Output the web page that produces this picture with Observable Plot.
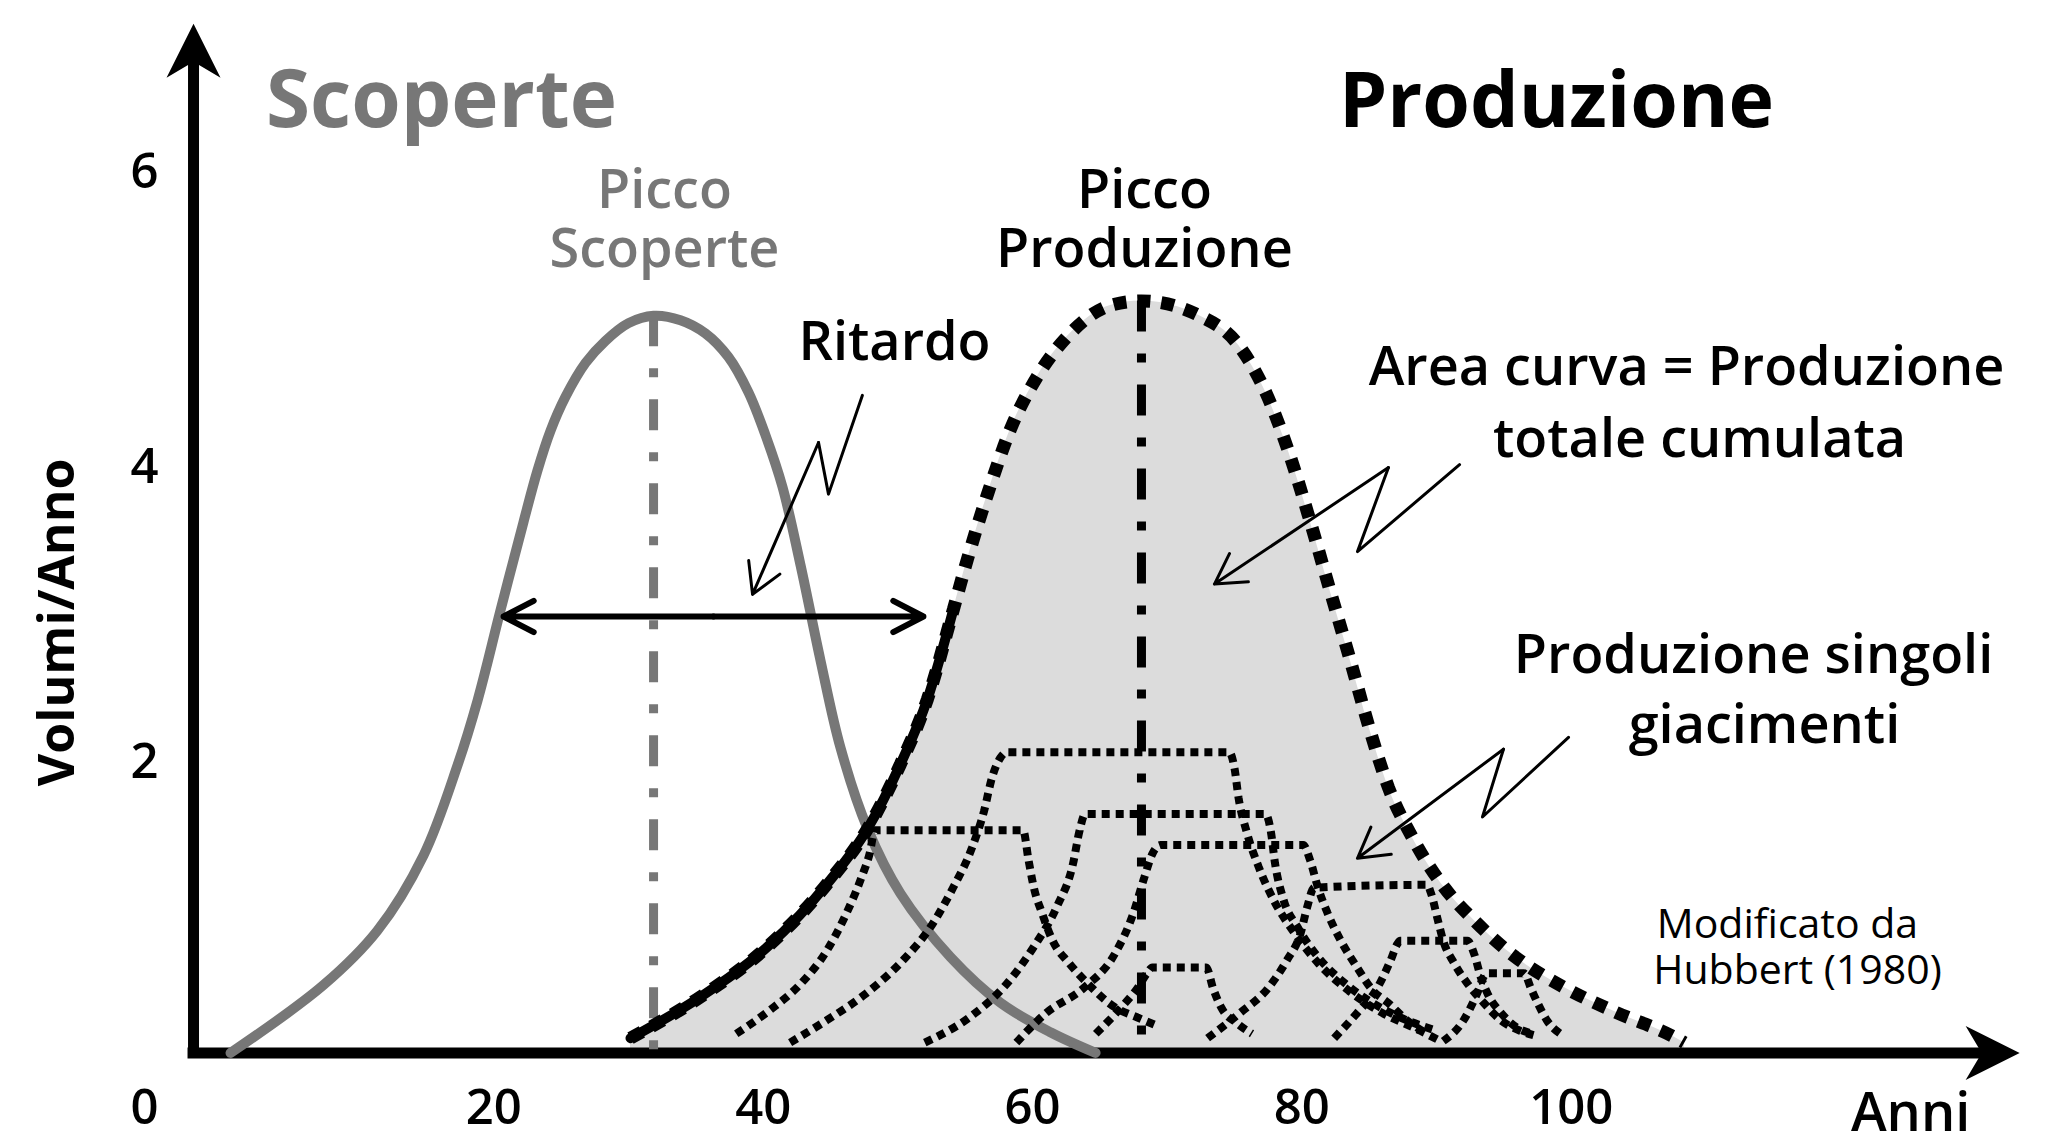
<!DOCTYPE html>
<html>
<head>
<meta charset="utf-8">
<script src="https://cdn.jsdelivr.net/npm/d3@7"></script>
<script src="https://cdn.jsdelivr.net/npm/@observablehq/plot@0.6"></script>
<style>
  html, body { margin: 0; padding: 0; background: #fff; }
  #chart svg { display: block; }
</style>
</head>
<body>
<div id="chart"></div>
<script>
// ---------- DATA (year, volume per year) ----------
const discoveries = [
  [0.45,0],[7.35,0.46],[11.36,0.83],[14.78,1.34],[17.30,1.95],[18.79,2.39],[20.49,3.00],
  [22.20,3.60],[23.24,3.95],[24.21,4.22],[25.32,4.45],[26.81,4.68],[28.29,4.83],[30.00,4.95],
  [31.86,5.00],[33.86,4.97],[35.72,4.88],[37.42,4.72],[38.91,4.48],[40.17,4.19],[41.43,3.84],
  [42.77,3.31],[44.26,2.66],[45.74,2.07],[47.75,1.52],[50.20,1.08],[53.91,0.65],[57.62,0.34],
  [61.33,0.14],[64.68,0]
];
const production = [
  [30.15,0.10],[35.35,0.38],[40.32,0.72],[44.78,1.15],[47.75,1.52],[50.20,1.96],[52.20,2.40],
  [54.13,3.01],[55.17,3.35],[56.66,3.79],[58.36,4.23],[60.37,4.59],[62.60,4.86],[65.79,5.07],
  [68.09,5.10],[72.40,5.00],[75.30,4.80],[77.37,4.47],[79.08,4.06],[80.57,3.62],[82.05,3.15],
  [83.54,2.68],[85.02,2.20],[86.43,1.80],[88.21,1.46],[90.59,1.12],[92.89,0.89],[95.86,0.65],
  [99.35,0.45],[103.21,0.28],[107.6,0.11],[108.4,0.07]
];
const observedUntil = 54.13; // solid (historical) part of production curve

// individual fields (giacimenti)
const fieldA = [[38.0,0.13],[40.5,0.29],[42.8,0.47],[44.7,0.69],[46.2,0.95],[47.3,1.19],[47.9,1.35],[48.3,1.51],[59.3,1.51],[59.7,1.31],[60.1,1.12],[60.7,0.95],[61.5,0.76],[62.7,0.61],[64.1,0.47],[66.1,0.31],[67.8,0.24],[69.1,0.19]];
const fieldB = [[42.0,0.07],[44.7,0.22],[47.6,0.40],[50.4,0.63],[52.4,0.85],[54.1,1.12],[55.5,1.39],[56.4,1.64],[57.0,1.87],[57.6,2.00],[58.1,2.04],[74.6,2.04],[75.0,1.93],[75.3,1.73],[75.9,1.50],[76.8,1.26],[78.0,1.02],[79.4,0.82],[81.2,0.61],[83.5,0.42],[85.8,0.28],[88.8,0.15],[90.3,0.08]];
const fieldC = [[52.0,0.07],[55.3,0.24],[58.1,0.47],[60.1,0.72],[61.8,0.99],[63.0,1.28],[63.5,1.51],[63.9,1.62],[77.3,1.62],[77.7,1.50],[78.0,1.29],[78.6,1.05],[79.7,0.85],[81.2,0.65],[83.5,0.45],[86.4,0.28],[90.0,0.15]];
const fieldD = [[58.8,0.07],[61.0,0.27],[63.8,0.44],[66.1,0.67],[67.5,0.95],[68.3,1.19],[68.9,1.35],[69.5,1.41],[80.1,1.41],[80.6,1.31],[81.2,1.12],[81.9,0.95],[82.9,0.76],[84.1,0.58],[85.3,0.42],[86.4,0.34],[87.8,0.22],[89.3,0.13]];
const fieldE = [[64.7,0.13],[66.6,0.31],[67.8,0.44],[68.5,0.54],[68.9,0.58],[72.9,0.58],[73.4,0.44],[74.0,0.31],[75.2,0.20],[76.3,0.13]];
const fieldF = [[73.0,0.10],[75.4,0.27],[77.5,0.44],[78.9,0.63],[79.9,0.81],[80.4,0.99],[80.9,1.12],[89.3,1.14],[89.6,1.08],[90.1,0.90],[90.5,0.76],[91.3,0.61],[92.3,0.47],[93.5,0.34],[94.8,0.22],[96.2,0.15],[97.2,0.12]];
const fieldG = [[82.4,0.10],[84.1,0.27],[85.6,0.44],[86.6,0.63],[87.1,0.74],[87.3,0.76],[92.3,0.76],[92.8,0.67],[93.3,0.51],[93.8,0.40],[94.8,0.27],[96.0,0.17],[97.2,0.13]];
const fieldH = [[90.5,0.08],[92.0,0.22],[93.0,0.40],[93.6,0.53],[93.8,0.54],[96.5,0.54],[97.0,0.44],[97.5,0.34],[98.2,0.22],[99.2,0.13]];
const fields = {A: fieldA, B: fieldB, C: fieldC, D: fieldD, E: fieldE, F: fieldF, G: fieldG, H: fieldH};

// tick labels and texts
const xTicks = [20, 40, 60, 80, 100];
const yTicks = [2, 4, 6];
const originLabel = "0";
const xLabel = "Anni";
const yLabel = "Volumi/Anno";
const titleDiscovery = "Scoperte";
const titleProduction = "Produzione";
const peakDiscoveryLabel = ["Picco", "Scoperte"];
const peakProductionLabel = ["Picco", "Produzione"];
const delayLabel = "Ritardo";
const areaLabel = ["Area curva = Produzione", "totale cumulata"];
const fieldsLabel = ["Produzione singoli", "giacimenti"];
const creditLabel = ["Modificato da", "Hubbert (1980)"];

// annotation geometry (in data units)
const axisOriginX = -2.3, yAxisTip = 6.98, yShaftEnd = 6.72, xAxisTip = 133.3, xShaftEnd = 130.5;
const delayY = 2.96, delayFrom = 20.72, delayTo = 51.9;
const zigDelay = [[47.37,4.46],[44.85,3.79],[44.11,4.14],[39.21,3.11]];
const zigArea = [[91.71,3.99],[84.13,3.40],[86.43,3.97],[73.51,3.18]];
const zigFields = [[99.80,2.14],[93.41,1.60],[94.97,2.06],[84.13,1.32]];

// ---------- BUILD ----------
const X = d => d[0], Y = d => d[1];
const grey = "#777777";
const fieldRows = Object.entries(fields).flatMap(([k, pts]) => pts.map(([year, value]) => ({field: k, year, value})));
const discPeak = d3.greatest(discoveries, Y);
const prodPeak = d3.greatest(production, Y);
const observed = production.filter(d => d[0] <= observedUntil);
const arrowHead = {
  draw(ctx) { ctx.moveTo(0, 0); ctx.lineTo(-27, 54); ctx.lineTo(0, 38); ctx.lineTo(27, 54); ctx.closePath(); }
};
const zigMarks = z => [
  Plot.line(z.slice(0, 3), {x: X, y: Y, stroke: "black", strokeWidth: 3, strokeLinejoin: "round"}),
  Plot.arrow([[z[2], z[3]]], {x1: d => d[0][0], y1: d => d[0][1], x2: d => d[1][0], y2: d => d[1][1],
    stroke: "black", strokeWidth: 3, headLength: 17, headAngle: 60})
];
const medium = {fontSize: 54, fontWeight: 600, lineAnchor: "bottom", text: d => d};
const tick = {fontSize: 49, fontWeight: 600, lineAnchor: "middle"};

const chart = Plot.plot({
  width: 2055,
  height: 1145,
  margin: 0,
  x: {domain: [0, 100], range: [224, 1570.7], axis: null},
  y: {domain: [0, 6], range: [1052.4, 167.8], axis: null},
  style: {fontFamily: "'Open Sans', 'DejaVu Sans', sans-serif", background: "white", color: "black"},
  marks: [
    Plot.areaY(production, {x: X, y: Y, fill: "#dcdcdc", curve: "monotone-x"}),
    // axes
    Plot.ruleY([0], {x1: axisOriginX, x2: xShaftEnd, stroke: "black", strokeWidth: 11, strokeLinecap: "square"}),
    Plot.ruleX([axisOriginX], {y1: 0, y2: yShaftEnd, stroke: "black", strokeWidth: 11, strokeLinecap: "square"}),
    Plot.dot([[axisOriginX, yAxisTip]], {x: X, y: Y, symbol: arrowHead, fill: "black", r: 10}),
    Plot.dot([[xAxisTip, 0]], {x: X, y: Y, symbol: arrowHead, fill: "black", r: 10, rotate: 90}),
    // discoveries
    Plot.ruleX([discPeak], {x: X, y1: Y, y2: 0, stroke: grey, strokeWidth: 9, strokeDasharray: "31,22,9,22", strokeLinecap: "butt"}),
    Plot.line(discoveries, {x: X, y: Y, stroke: grey, strokeWidth: 10, curve: "catmull-rom"}),
    // fields
    Plot.line(fieldRows, {x: "year", y: "value", z: "field", stroke: "black", strokeWidth: 8,
      strokeDasharray: "8,6", strokeLinecap: "butt", strokeLinejoin: "miter", curve: "monotone-x"}),
    // production
    Plot.line(production, {x: X, y: Y, stroke: "black", strokeWidth: 13, strokeDasharray: "13,11",
      strokeLinecap: "butt", strokeLinejoin: "miter", curve: "monotone-x"}),
    Plot.line(observed, {x: X, y: Y, stroke: "black", strokeWidth: 10, curve: "monotone-x"}),
    Plot.ruleX([prodPeak], {x: X, y1: Y, y2: 0, stroke: "black", strokeWidth: 9, strokeDasharray: "31,22,9,22", strokeLinecap: "butt"}),
    // delay arrow
    Plot.arrow([delayFrom, delayTo], {x1: (delayFrom + delayTo) / 2, x2: d => d, y1: delayY, y2: delayY,
      stroke: "black", strokeWidth: 6, headLength: 8.5, headAngle: 55}),
    ...zigMarks(zigDelay),
    ...zigMarks(zigArea),
    ...zigMarks(zigFields),
    // tick labels
    Plot.text(xTicks, {x: d => d, y: 0, dy: 55, text: d => String(d), ...tick}),
    Plot.text(yTicks, {x: axisOriginX, y: d => d, dx: -49, dy: 4, text: d => String(d), ...tick}),
    Plot.text([originLabel], {x: axisOriginX, y: 0, dx: -49, dy: 55, text: d => d, ...tick}),
    Plot.text([xLabel], {x: 125.2, y: -0.53, ...medium}),
    Plot.text([yLabel], {x: -12.4, y: 2.92, rotate: -90, text: d => d, fontSize: 50, fontWeight: 700, lineAnchor: "middle"}),
    // titles
    Plot.text([titleDiscovery], {x: 16.11, y: 6.28, text: d => d, fontSize: 80, fontWeight: 700, fill: grey, lineAnchor: "bottom"}),
    Plot.text([titleProduction], {x: 98.91, y: 6.28, text: d => d, fontSize: 77, fontWeight: 700, fill: "black", lineAnchor: "bottom"}),
    // peak labels
    Plot.text([peakDiscoveryLabel[0]], {x: 32.67, y: 5.73, ...medium, fill: grey}),
    Plot.text([peakDiscoveryLabel[1]], {x: 32.67, y: 5.33, ...medium, fill: grey}),
    Plot.text([peakProductionLabel[0]], {x: 68.31, y: 5.73, ...medium}),
    Plot.text([peakProductionLabel[1]], {x: 68.31, y: 5.33, ...medium}),
    // annotations
    Plot.text([delayLabel], {x: 49.75, y: 4.70, ...medium}),
    Plot.text([areaLabel[0]], {x: 108.56, y: 4.53, ...medium}),
    Plot.text([areaLabel[1]], {x: 109.53, y: 4.04, ...medium}),
    Plot.text([fieldsLabel[0]], {x: 113.54, y: 2.58, ...medium}),
    Plot.text([fieldsLabel[1]], {x: 114.35, y: 2.10, ...medium}),
    Plot.text([creditLabel[0]], {x: 116.06, y: 0.78, ...medium, fontSize: 41, fontWeight: 500}),
    Plot.text([creditLabel[1]], {x: 116.80, y: 0.47, ...medium, fontSize: 41, fontWeight: 500})
  ]
});
document.getElementById("chart").appendChild(chart);
</script>
</body>
</html>
